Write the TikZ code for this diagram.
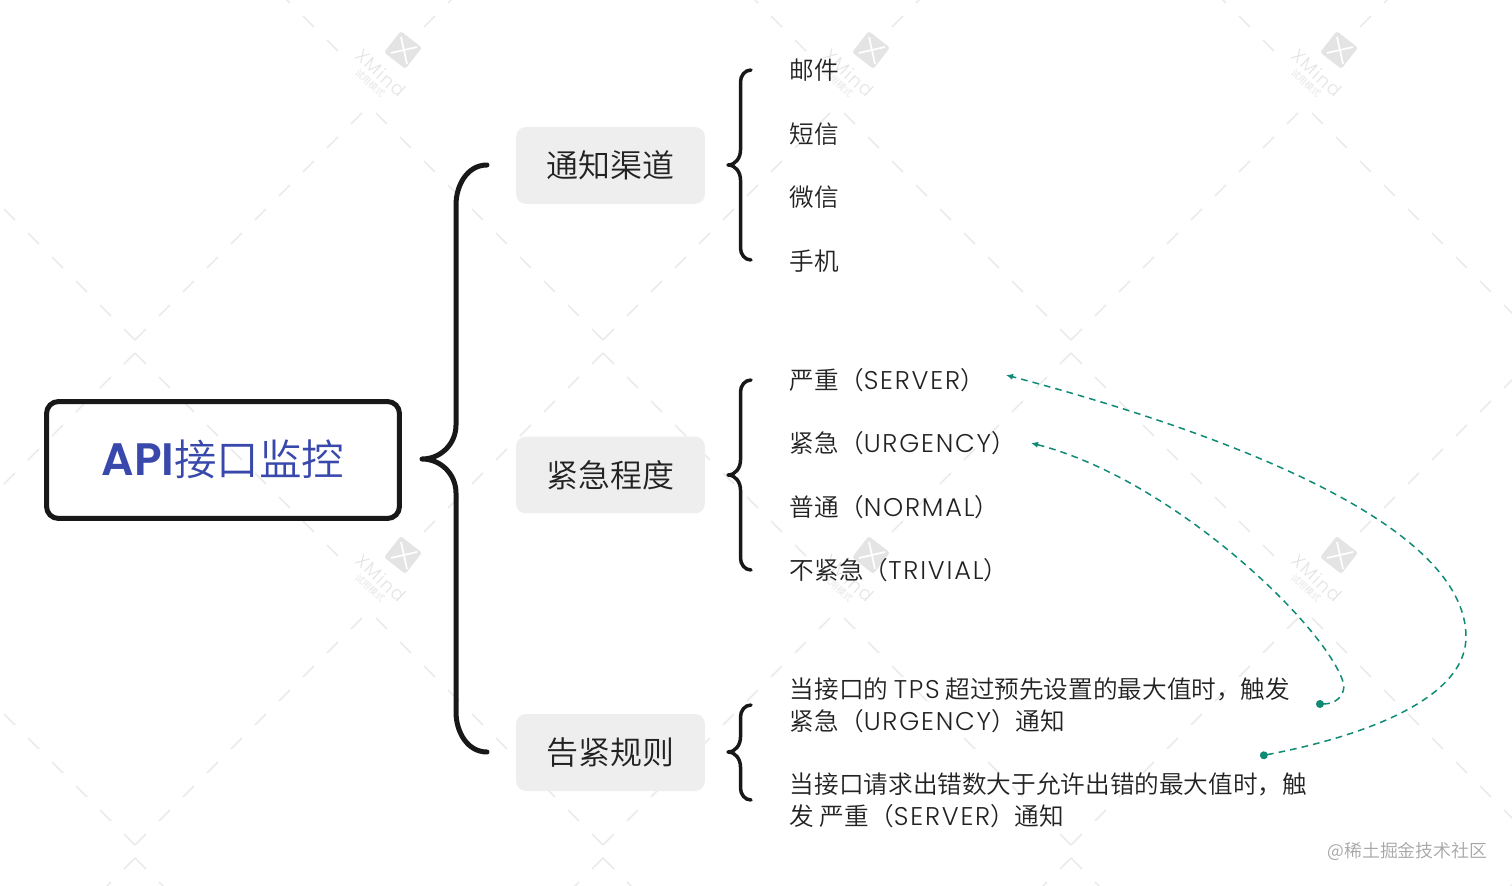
\documentclass[tikz,border=0pt]{standalone}
\usepackage{fontspec}
\setmainfont{Noto Sans CJK SC}[UprightFont={* DemiLight},BoldFont={*}]
\newfontfamily\latin{Poppins}[UprightFont={* Light},BoldFont={* SemiBold},LetterSpace=7,Scale=1.04]
\newfontfamily\latinhead{Poppins}[UprightFont={* SemiBold},Scale=1.07]
\usetikzlibrary{arrows.meta,calc}
\definecolor{Ink}{RGB}{24,24,24}
\definecolor{TextGray}{RGB}{34,34,34}
\definecolor{TitleBlue}{RGB}{57,73,171}
\definecolor{SoftGray}{RGB}{238,238,238}
\definecolor{LinkTeal}{RGB}{14,138,117}
\definecolor{MarkGray}{RGB}{228,228,228}
\definecolor{MarkLine}{RGB}{234,234,234}
\definecolor{SiteGray}{RGB}{165,165,165}
\tikzset{
  >=Latex,
  rootbox/.style={draw=Ink,line width=.1cm,rounded corners=.24cm,text=TitleBlue,align=center,font=\fontsize{24.2}{28}\selectfont,minimum width=7.06cm,minimum height=2.34cm},
  topic/.style={fill=SoftGray,rounded corners=.2cm,text=TextGray,align=center,font=\fontsize{18.2}{22}\selectfont,minimum width=3.78cm,minimum height=1.54cm},
  leaf/.style={anchor=west,inner sep=0pt,align=left,text=TextGray,font=\fontsize{14.02}{18}\selectfont},
  bigbrace/.style={draw=Ink,line width=.1cm,line cap=round,line join=round},
  smallbrace/.style={draw=Ink,line width=.07cm,line cap=round,line join=round},
  relation/.style={draw=LinkTeal,line width=.03cm,dash pattern=on 3.8pt off 2.9pt,{Circle[length=4.5pt]}-{Latex[length=4pt,width=3.6pt]}},
  markline/.style={draw=MarkLine,line width=.03cm},
  marktext/.style={text=MarkGray,rotate=-43,inner sep=0pt}
}
\begin{document}
\begin{tikzpicture}[x=.02cm,y=-.02cm]
  \useasboundingbox (0,0) rectangle (1512,886);
  \begin{scope}
    \clip (0,0) rectangle (1512,886);
    % faint trial marks
    \foreach \cx in {135,603,1071,1539}{
      \foreach \cy in {-165,340,845}
        \foreach \d in {0,24,...,216}
          \draw[markline] (\cx+\d,\cy-\d) -- ++(11,-11) (\cx-\d,\cy-\d) -- ++(-11,-11);
      \foreach \cy in {-152,353,858}
        \foreach \d in {0,24,...,192}
          \draw[markline] (\cx+\d,\cy+\d) -- ++(11,11) (\cx-\d,\cy+\d) -- ++(-11,11);
    }
    \foreach \mx/\my/\mk in {403/50/a,871/50/b,1339/50/c,403/555/d,871/555/e,1339/555/f}{
      \begin{scope}[shift={(\mx,\my)}]
        \node[fill=MarkGray,rounded corners=.05cm,rotate=-38,minimum size=.54cm,inner sep=0pt] (logo\mk) at (0,0) {};
        \draw[white,line width=.035cm] (-12,3) -- (14,-3) (-2,-13) -- (4,14);
        \node[marktext,font=\latin\fontsize{10}{12}\selectfont] (word\mk) at (-22,23) {XMind};
        \node[marktext,font=\fontsize{5.2}{6}\selectfont] (trial\mk) at (-33,33) {试用模式};
      \end{scope}
    }
  \end{scope}

  \node[rootbox] (root) at (223,460) {\raisebox{.09cm}{{\latinhead API}接口监控}};

  \node[topic] (channel) at (610.5,165.5) {通知渠道};
  \node[topic] (level) at (610.5,475) {紧急程度};
  \node[topic] (rule) at (610.5,752.5) {告紧规则};

  \node[leaf] (mail) at (789.5,70.5) {邮件};
  \node[leaf] (sms) at (789.5,134) {短信};
  \node[leaf] (wechat) at (789.5,197.5) {微信};
  \node[leaf] (phone) at (789.5,261) {手机};
  \node[leaf] (server) at (789.5,380) {严重（{\latin SERVER}）};
  \node[leaf] (urgency) at (789.5,443) {紧急（{\latin URGENCY}）};
  \node[leaf] (normal) at (789.5,507) {普通（{\latin NORMAL}）};
  \node[leaf] (trivial) at (789.5,570) {不紧急（{\latin TRIVIAL}）};
  \node[leaf] (ruleA) at (789.5,705) {当接口的 {\latin TPS} 超过预先设置的最大值时，触发\\紧急（{\latin URGENCY}）通知};
  \node[leaf] (ruleB) at (789.5,800) {当接口请求出错数大于允许出错的最大值时，触\\发 严重（{\latin SERVER}）通知};

  \node[text=SiteGray,font=\fontsize{10.2}{12}\selectfont,inner sep=0pt] (site) at (1407.5,851) {@稀土掘金技术社区};

  % braces
  \coordinate (rootTip) at (422,459);
  \coordinate (rootTop) at (487,165);
  \coordinate (rootBot) at (487,752);
  \draw[bigbrace] (rootTop) to[out=180,in=90] (456,205) -- (456,425) to[out=-90,in=0] (rootTip)
    to[out=0,in=90] (456,493) -- (456,712) to[out=-90,in=180] (rootBot);
  \foreach \t/\m/\b/\n in {70/165/260/channel,380/475/570/level,705/752/800/rule}{
    \coordinate (\n Top) at (751,\t);
    \coordinate (\n Tip) at (728,\m);
    \coordinate (\n Bot) at (751,\b);
    \draw[smallbrace] (\n Top) to[out=180,in=90] (740.5,\t+12) -- (740.5,\m-15) to[out=-90,in=0] (\n Tip)
      to[out=0,in=90] (740.5,\m+15) -- (740.5,\b-12) to[out=-90,in=180] (\n Bot);
  }

  % relations
  \coordinate (fromA) at (1316,704);
  \coordinate (toA) at (1031,443);
  \coordinate (fromB) at (1260,756);
  \coordinate (toB) at (1006,375);
  \draw[relation] (fromA) .. controls (1335,704) and (1344,697) .. (1344,685)
    .. controls (1330,630) and (1175,480) .. (toA);
  \draw[relation] (fromB) .. controls (1360,737) and (1466,700) .. (1466,637)
    .. controls (1466,530) and (1250,440) .. (toB);
\end{tikzpicture}
\end{document}
